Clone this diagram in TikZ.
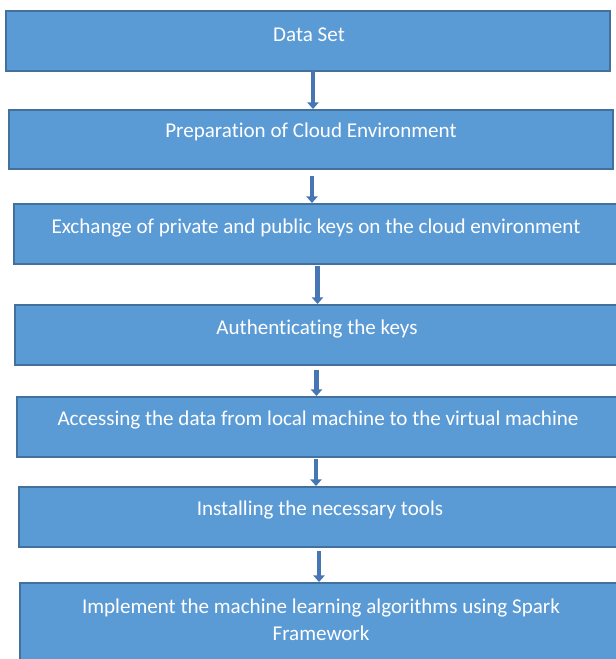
\documentclass[tikz,border=0pt]{standalone}
\usepackage{fontspec}
\setmainfont{Carlito}[Ligatures={NoCommon}]
\usetikzlibrary{arrows.meta,calc}
\definecolor{boxfill}{HTML}{5B9BD5}
\definecolor{boxline}{HTML}{41719C}
\definecolor{arrcol}{HTML}{4677B4}
\tikzset{
  box/.style={draw=boxline, line width=1.6pt, fill=boxfill},
  txt/.style={text=white, font=\fontsize{15.8}{20.3}\selectfont, inner sep=0pt, align=center},
  arr/.style={draw=arrcol, line width=3.2pt, -{Triangle[width=8.5pt,length=5pt]}}
}
\begin{document}
\begin{tikzpicture}[x=0.75pt,y=-0.75pt]
\useasboundingbox (0,0) rectangle (616,659);
\begin{scope}
\clip (0,0) rectangle (616,659);
\path[box] (6,11) rectangle (610,71) node[midway] (b1) {};
\path[box] (9,110) rectangle (613,169) node[midway] (b2) {};
\path[box] (14,204) rectangle (618,264) node[midway] (b3) {};
\path[box] (15,305) rectangle (618,365) node[midway] (b4) {};
\path[box] (17,397) rectangle (618,457) node[midway] (b5) {};
\path[box] (19,487) rectangle (618,547) node[midway] (b6) {};
\path[box] (20,583) rectangle (618,665) node[midway] (b7) {};
\end{scope}
\node[txt] (t1) at (309,35) {Data Set};
\node[txt] (t2) at (311,132) {Preparation of Cloud Environment};
\node[txt] (t3) at (316,228) {Exchange of private and public keys on the cloud environment};
\node[txt] (t4) at (317,329) {Authenticating the keys};
\node[txt] (t5) at (318,420) {Accessing the data from local machine to the virtual machine};
\node[txt] (t6) at (320,510) {Installing the necessary tools};
\node[txt] (t7) at (321,620) {Implement the machine learning algorithms using Spark\\Framework};
\coordinate (a1) at (313,71);  \coordinate (e1) at (313,109);
\coordinate (a2) at (312,176); \coordinate (e2) at (312,203);
\coordinate (a3) at (317.5,266); \coordinate (e3) at (317.5,304);
\coordinate (a4) at (316.5,370); \coordinate (e4) at (316.5,396);
\coordinate (a5) at (316,459); \coordinate (e5) at (316,486);
\coordinate (a6) at (319,551); \coordinate (e6) at (319,582);
\draw[arr] (a1) -- (e1);
\draw[arr] (a2) -- (e2);
\draw[arr] (a3) -- (e3);
\draw[arr] (a4) -- (e4);
\draw[arr] (a5) -- (e5);
\draw[arr] (a6) -- (e6);
\end{tikzpicture}
\end{document}
